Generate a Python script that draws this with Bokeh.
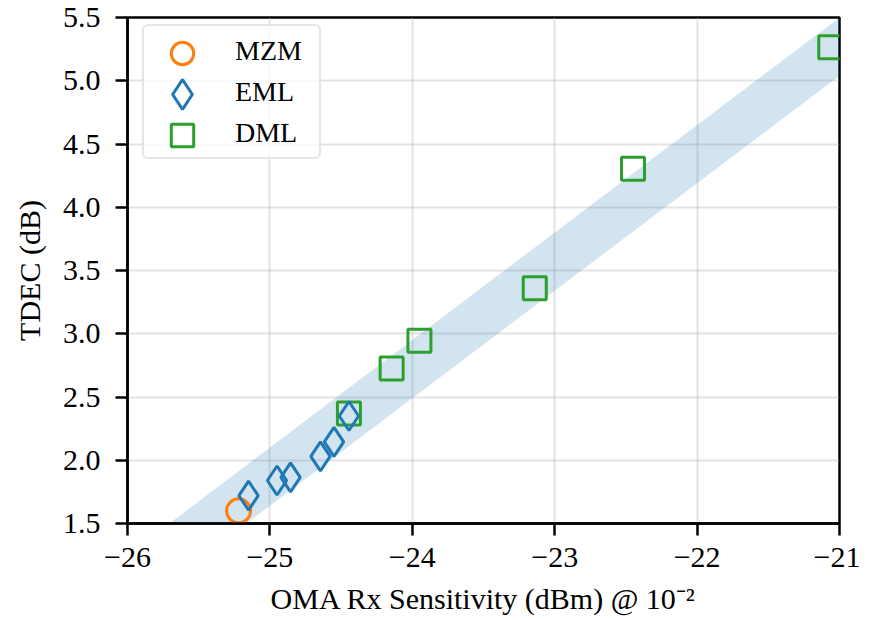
from bokeh.plotting import figure
from bokeh.models import FixedTicker, Legend, LegendItem, CustomJSTickFormatter
from bokeh.embed import file_html
from bokeh.resources import INLINE

# ---- data ----
mzm_x = [-25.22]
mzm_y = [1.60]

eml_x = [-25.15, -24.95, -24.855, -24.645, -24.55, -24.445]
eml_y = [1.72, 1.84, 1.865, 2.03, 2.145, 2.35]

dml_x = [-24.445, -24.145, -23.95, -23.14, -22.45, -21.065]
dml_y = [2.37, 2.725, 2.945, 3.36, 4.305, 5.265]

band_x = [-26.0, -21.0]
band_lo = [0.79, 5.04]
band_hi = [1.25, 5.50]

x_ticks = [-26, -25, -24, -23, -22, -21]
x_tick_labels = ["\u221226", "\u221225", "\u221224", "\u221223", "\u221222", "\u221221"]
y_ticks = [1.5, 2.0, 2.5, 3.0, 3.5, 4.0, 4.5, 5.0, 5.5]
y_tick_labels = ["1.5", "2.0", "2.5", "3.0", "3.5", "4.0", "4.5", "5.0", "5.5"]

series_names = ["MZM", "EML", "DML"]

FONT = "Liberation Serif"
TICK_FS = "30px"
LABEL_FS = "30px"
LEGEND_FS = "28px"

FL, FT, FR, FB = 127, 17, 839, 523   # frame edges in page pixels
W, H = 860, 620
p = figure(width=W, height=H, output_backend="svg", toolbar_location=None,
           x_range=(-26, -21), y_range=(1.5, 5.5),
           min_border_left=FL, min_border_top=FT, min_border_right=W - FR,
           min_border_bottom=H - FB)
p.outline_line_color = "black"
p.outline_line_width = 2.5
p.background_fill_color = "white"
p.border_fill_color = "white"

band = p.varea(x=band_x, y1=band_lo, y2=band_hi, fill_color="#1f77b4", fill_alpha=0.2)

r_dml = p.scatter(dml_x, dml_y, marker="square", size=23, fill_color=None,
                  line_color="#2ca02c", line_width=3)
r_mzm = p.scatter(mzm_x, mzm_y, marker="circle", size=24, fill_color=None,
                  line_color="#ff7f0e", line_width=3)
r_eml = p.scatter(eml_x, eml_y, marker="diamond", size=29, fill_color=None,
                  line_color="#1f77b4", line_width=3)

fmt_code = """
for (let i = 0; i < tvals.length; i++) {
    if (Math.abs(tvals[i] - tick) < 1e-9) { return tlabels[i]; }
}
return "";
"""

for ax in (p.xaxis[0], p.yaxis[0]):
    ax.major_label_text_font = FONT
    ax.major_label_text_font_size = TICK_FS
    ax.major_label_text_font_style = "normal"
    ax.major_label_text_color = "black"
    ax.axis_label_text_font = FONT
    ax.axis_label_text_font_size = LABEL_FS
    ax.axis_label_text_font_style = "normal"
    ax.axis_label_text_color = "black"
    ax.axis_line_color = "black"
    ax.axis_line_width = 2.5
    ax.major_tick_line_color = "black"
    ax.major_tick_line_width = 2.5
    ax.major_tick_out = 12
    ax.major_tick_in = 0
    ax.minor_tick_line_color = None

p.xaxis[0].ticker = FixedTicker(ticks=x_ticks)
p.yaxis[0].ticker = FixedTicker(ticks=y_ticks)
p.xaxis[0].formatter = CustomJSTickFormatter(args=dict(tvals=x_ticks, tlabels=x_tick_labels), code=fmt_code)
p.yaxis[0].formatter = CustomJSTickFormatter(args=dict(tvals=y_ticks, tlabels=y_tick_labels), code=fmt_code)
p.xaxis[0].major_label_standoff = 12
p.yaxis[0].major_label_standoff = 15
p.xaxis[0].axis_label = "OMA Rx Sensitivity (dBm) @ 10\u207b\u00b2"
p.yaxis[0].axis_label = "TDEC (dB)"
p.xaxis[0].axis_label_standoff = 12
p.yaxis[0].axis_label_standoff = 14

p.grid.grid_line_color = "#b0b0b0"
p.grid.grid_line_alpha = 0.35
p.grid.grid_line_width = 2

# main legend: box + labels (no glyphs drawn here)
ITEM_H, PAD, GW = 41, 4, 72
box_left, box_top = 142, 28.5
box_h = 3 * ITEM_H + 2 * PAD
legend = Legend(items=[LegendItem(label=n, renderers=[]) for n in series_names],
                location=(box_left - FL, int(round(FB - (box_top + box_h)))))
legend.label_text_font = FONT
legend.label_text_font_size = LEGEND_FS
legend.label_text_color = "black"
legend.glyph_height = ITEM_H
legend.glyph_width = GW
legend.label_width = 80
legend.spacing = 0
legend.padding = PAD
legend.label_standoff = 15
legend.border_line_color = "#cccccc"
legend.border_line_width = 2.5
legend.background_fill_color = "white"
legend.background_fill_alpha = 0.8
try:
    legend.border_radius = 6
except Exception:
    pass
p.add_layout(legend)

# larger legend markers, each centred on its legend row
cx = box_left + PAD + GW / 2
for i, (r, g) in enumerate([(r_mzm, 56), (r_eml, 74), (r_dml, 56)]):
    cy = box_top + PAD + ITEM_H * (i + 0.5)
    ml = Legend(items=[LegendItem(label="", renderers=[r])],
                location=(int(round(cx - g / 2 - FL)), int(round(FB - (cy + g / 2)))))
    ml.glyph_height = g
    ml.glyph_width = g
    ml.label_width = 0
    ml.label_height = 0
    ml.label_standoff = 0
    ml.label_text_font_size = "1px"
    ml.padding = 0
    ml.spacing = 0
    ml.border_line_color = None
    ml.background_fill_alpha = 0
    p.add_layout(ml)

open("out.html", "w").write(file_html(p, INLINE))
